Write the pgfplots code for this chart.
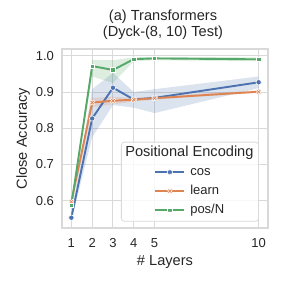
\documentclass[border=0pt]{standalone}
\usepackage{pgfplots}
\pgfplotsset{compat=1.18}
\usepackage{fontspec}
\setmainfont{Liberation Sans}
\definecolor{cosc}{HTML}{4C72B0}
\definecolor{learnc}{HTML}{DD8452}
\definecolor{posc}{HTML}{55A868}
\definecolor{gridc}{HTML}{D9D9D9}
\pgfdeclareplotmark{X}{%
  \pgftransformrotate{45}%
  \pgfpathmoveto{\pgfqpoint{0.32\pgfplotmarksize}{0.32\pgfplotmarksize}}%
  \pgfpathlineto{\pgfqpoint{0.32\pgfplotmarksize}{1.1\pgfplotmarksize}}%
  \pgfpathlineto{\pgfqpoint{-0.32\pgfplotmarksize}{1.1\pgfplotmarksize}}%
  \pgfpathlineto{\pgfqpoint{-0.32\pgfplotmarksize}{0.32\pgfplotmarksize}}%
  \pgfpathlineto{\pgfqpoint{-1.1\pgfplotmarksize}{0.32\pgfplotmarksize}}%
  \pgfpathlineto{\pgfqpoint{-1.1\pgfplotmarksize}{-0.32\pgfplotmarksize}}%
  \pgfpathlineto{\pgfqpoint{-0.32\pgfplotmarksize}{-0.32\pgfplotmarksize}}%
  \pgfpathlineto{\pgfqpoint{-0.32\pgfplotmarksize}{-1.1\pgfplotmarksize}}%
  \pgfpathlineto{\pgfqpoint{0.32\pgfplotmarksize}{-1.1\pgfplotmarksize}}%
  \pgfpathlineto{\pgfqpoint{0.32\pgfplotmarksize}{-0.32\pgfplotmarksize}}%
  \pgfpathlineto{\pgfqpoint{1.1\pgfplotmarksize}{-0.32\pgfplotmarksize}}%
  \pgfpathlineto{\pgfqpoint{1.1\pgfplotmarksize}{0.32\pgfplotmarksize}}%
  \pgfpathclose
  \pgfusepathqfillstroke
}
\begin{document}
\begin{tikzpicture}
\begin{axis}[
  scale only axis, width=206pt, height=179pt,
  xmin=0.55, xmax=10.45, ymin=0.5245, ymax=1.019,
  xtick={1,2,3,4,5,10}, ytick={0.6,0.7,0.8,0.9,1.0},
  /pgf/number format/assume math mode=true,
  yticklabel style={/pgf/number format/fixed, /pgf/number format/fixed zerofill, /pgf/number format/precision=1, xshift=-4.5pt},
  major tick length=0pt,
  grid=major, major grid style={draw=gridc, line width=1pt},
  axis line style={draw=gridc, line width=1.25pt},
  tick label style={font=\fontsize{13}{15}\selectfont, text=black!85},
  xticklabel style={yshift=-7pt},
  title={(a) Transformers\\(Dyck-(8, 10) Test)},
  title style={at={(rel axis cs:0.5,1)}, anchor=south, inner sep=0pt, yshift=3pt, xshift=-2pt,
    align=center, font=\fontsize{14.6}{16.7}\selectfont, text=black!85},
  xlabel={\# Layers},
  xlabel style={at={(rel axis cs:0.5,0)}, anchor=base, yshift=-37pt, font=\fontsize{14.6}{16}\selectfont, text=black!85},
  ylabel={Close Accuracy},
  ylabel style={at={(axis description cs:-0.17,0.5)}, anchor=base, font=\fontsize{14.6}{16}\selectfont, text=black!85},
  legend style={font=\fontsize{13}{15}\selectfont, text=black!85,
    at={(rel axis cs:0.956,0.035)}, anchor=south east,
    draw=black!15, line width=0.8pt, rounded corners=3pt, fill=white, fill opacity=0.8, text opacity=1,
    inner xsep=3pt, inner ysep=3pt,
    nodes={inner sep=2pt, text height=9.5pt, text depth=2.7pt},
    row sep=2.8pt, column sep=3pt},
  legend cell align=left,
  legend image code/.code={%
    \path (-30pt,0pt) circle (0pt);
    \draw[mark repeat=2,mark phase=2] plot coordinates {(0pt,0pt) (14.5pt,0pt) (29pt,0pt)};},
]
\addlegendimage{empty legend}
\addlegendentry{\hspace{-65pt}\fontsize{14.6}{16}\selectfont Positional Encoding}

% bands
\addplot[fill=cosc, fill opacity=0.2, draw=none, forget plot] coordinates {
 (1,0.545)(2,0.775)(3,0.864)(4,0.857)(5,0.842)(10,0.911)
 (10,0.943)(5,0.908)(4,0.900)(3,0.953)(2,0.908)(1,0.562)} -- cycle;
\addplot[fill=learnc, fill opacity=0.2, draw=none, forget plot] coordinates {
 (1,0.592)(2,0.858)(3,0.866)(4,0.874)(5,0.879)(10,0.898)
 (10,0.905)(5,0.888)(4,0.884)(3,0.887)(2,0.884)(1,0.602)} -- cycle;
\addplot[fill=posc, fill opacity=0.2, draw=none, forget plot] coordinates {
 (1,0.584)(2,0.943)(3,0.925)(4,0.985)(5,0.988)(10,0.985)
 (10,0.996)(5,0.997)(4,0.996)(3,0.988)(2,0.989)(1,0.592)} -- cycle;

\addplot[color=cosc, line width=1.9pt, mark=*, mark size=2.7pt,
  mark options={fill=cosc, draw=white, line width=0.6pt}]
  coordinates {(1,0.553)(2,0.827)(3,0.912)(4,0.8795)(5,0.884)(10,0.927)};
\addlegendentry{cos}
\addplot[color=learnc, line width=1.9pt, mark=X, mark size=2.6pt,
  mark options={fill=learnc, draw=white, line width=0.5pt}]
  coordinates {(1,0.597)(2,0.871)(3,0.876)(4,0.879)(5,0.883)(10,0.901)};
\addlegendentry{learn}
\addplot[color=posc, line width=1.9pt, mark=square*, mark size=2.2pt,
  mark options={fill=posc, draw=white, line width=0.6pt}]
  coordinates {(1,0.588)(2,0.972)(3,0.961)(4,0.991)(5,0.993)(10,0.9905)};
\addlegendentry{pos/N}
\end{axis}
\path ([shift={(-62pt,-56pt)}]current axis.south west) rectangle ([shift={(16pt,49pt)}]current axis.north east);
\end{tikzpicture}
\end{document}
